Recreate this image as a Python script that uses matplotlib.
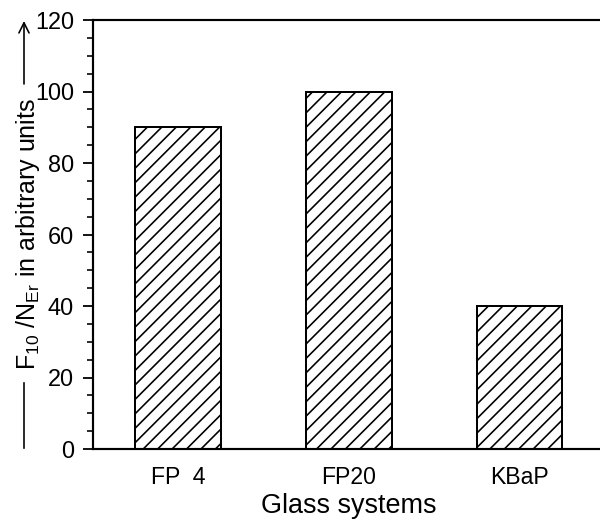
import numpy as np
import matplotlib.pyplot as plt
from matplotlib.lines import Line2D

# data
systems = ['FP  4', 'FP20', 'KBaP']
ratio = [90, 100, 40]

DPI = 130
W, H = 600, 521

def pt(px):
    # pixel size -> points at this dpi
    return px * 72.0 / DPI

plt.rcParams['font.family'] = ['Liberation Sans', 'DejaVu Sans']
plt.rcParams['mathtext.fontset'] = 'custom'
plt.rcParams['mathtext.rm'] = 'Liberation Sans'
plt.rcParams['mathtext.it'] = 'Liberation Sans'
plt.rcParams['hatch.linewidth'] = 0.9

fig = plt.figure(figsize=(W / DPI, H / DPI), dpi=DPI)
ax = fig.add_axes([93 / W, 1 - 449 / H, 1 - 93 / W, (449 - 20) / H])

x = np.arange(1, len(systems) + 1)
ax.bar(x, ratio, width=0.5, color='white', edgecolor='black',
       linewidth=1.1, hatch='///')

ax.set_xlim(0.503, 3.47)
ax.set_ylim(0, 120)
ax.set_yticks(range(0, 121, 20))
ax.set_yticks(range(0, 121, 5), minor=True)
ax.set_xticks(x)
ax.set_xticklabels(systems, fontsize=pt(23))
ax.tick_params(axis='x', length=0, pad=pt(17))
ax.tick_params(axis='y', which='major', length=pt(10), width=1.0,
               labelsize=pt(23.5), pad=pt(9))
ax.tick_params(axis='y', which='minor', length=pt(6), width=0.9)
ax.spines['right'].set_visible(False)
for s in ['left', 'top', 'bottom']:
    ax.spines[s].set_linewidth(1.2)

# x axis title
fig.text(349 / W, 1 - 506 / H, 'Glass systems', fontsize=pt(27),
         ha='center', va='center')

# y axis title with arrow line
fig.text(28 / W, 1 - 234 / H, r'F$_{10}$ /N$_{\rm Er}$ in arbitrary units',
         fontsize=pt(25), rotation=90, ha='center', va='center')
fig.add_artist(Line2D([24 / W, 24 / W], [1 - 448 / H, 1 - 383 / H],
                      color='black', linewidth=0.9))
fig.add_artist(plt.Annotation('', xy=(24 / W, 1 - 21 / H),
                              xytext=(24 / W, 1 - 84 / H),
                              xycoords='figure fraction',
                              arrowprops=dict(arrowstyle='->', color='black',
                                              lw=0.9, shrinkA=0, shrinkB=0,
                                              mutation_scale=14)))

fig.savefig('out.png', dpi=DPI)
